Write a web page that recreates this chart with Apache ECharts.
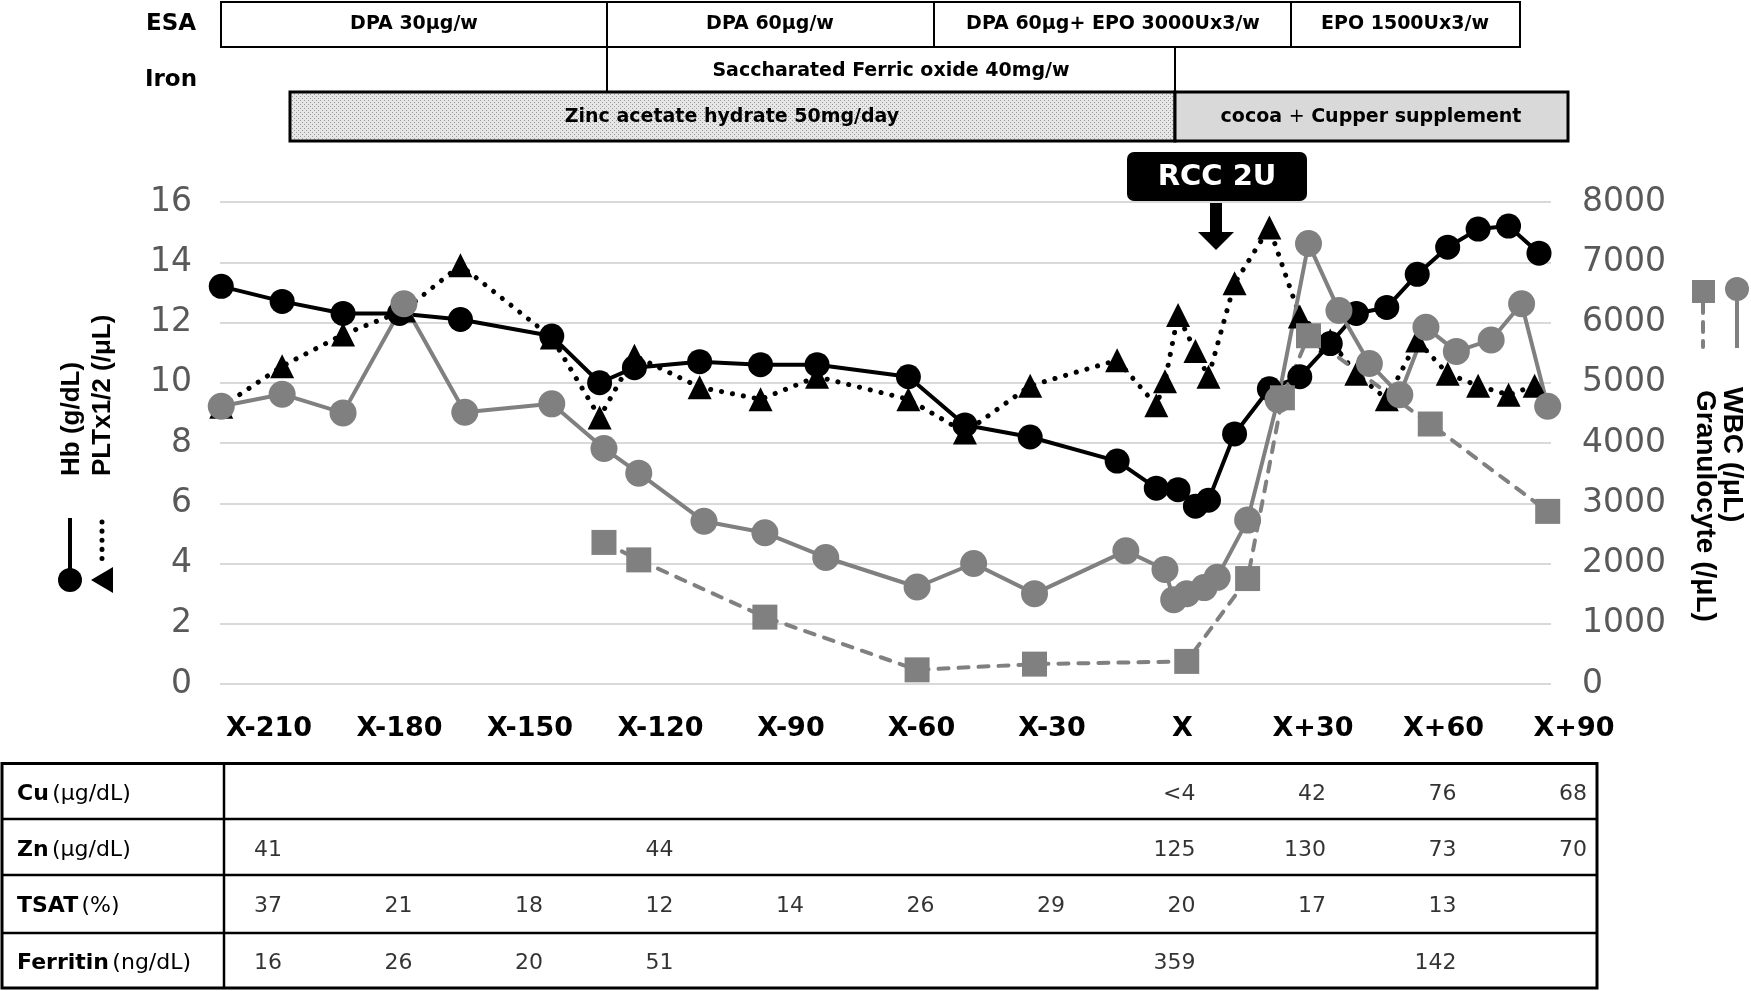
<!DOCTYPE html>
<html><head><meta charset="utf-8">
<script src="https://cdn.jsdelivr.net/npm/echarts@6/dist/echarts.min.js"></script>
<style>html,body{margin:0;padding:0;background:#fff}#c{width:1751px;height:991px}</style>
</head><body><div id="c"></div>
<script>
// ---- tick labels ----
const tickDays = [-210,-180,-150,-120,-90,-60,-30,0,30,60,90];
const xTickLabels = ['X-210','X-180','X-150','X-120','X-90','X-60','X-30','X','X+30','X+60','X+90'];

// ---- Hb (g/dL), left axis ----
const hbDays = [-221,-207,-193,-180,-166,-145,-134,-126,-111,-97,-84,-63,-50,-35,-15,-6,-1,3,6,12,20,27,34,40,47,54,61,68,75,82];
const hbValues = [13.2,12.7,12.3,12.3,12.1,11.55,10.0,10.5,10.7,10.6,10.6,10.2,8.6,8.2,7.4,6.5,6.45,5.9,6.1,8.3,9.8,10.2,11.3,12.3,12.5,13.6,14.5,15.1,15.2,14.3];

// ---- PLT x1/2, left axis ----
const pltDays = [-221,-207,-193,-179,-166,-145,-134,-126,-111,-97,-84,-63,-50,-35,-15,-6,-4,-1,3,6,12,20,27,34,40,47,54,61,68,75,81];
const pltValues = [9.2,10.55,11.6,12.4,13.9,11.5,8.85,10.9,9.85,9.45,10.2,9.45,8.35,9.9,10.75,9.25,10.05,12.25,11.05,10.2,13.3,15.15,12.2,11.4,10.3,9.45,11.4,10.3,9.9,9.6,9.9];

// ---- WBC (/uL), right axis ----
const wbcDays = [-221,-207,-193,-179,-165,-145,-133,-125,-110,-96,-82,-61,-48,-34,-13,-4,-2,1,5,8,15,22,29,36,43,50,56,63,71,78,84];
const wbcValues = [4610,4810,4500,6310,4510,4650,3910,3500,2700,2510,2100,1610,2000,1500,2210,1900,1400,1500,1600,1770,2720,4720,7310,6200,5320,4800,5920,5520,5710,6310,4610];

// ---- Granulocyte (/uL), right axis ----
const granDays = [-133,-125,-96,-61,-34,1,15,23,29,57,84];
const granValues = [2350,2060,1110,235,330,375,1750,4750,5780,4315,2865];

// ---- table ----
const tableRowNames = ['Cu','Zn','TSAT','Ferritin'];
const tableRowUnits = ['(μg/dL)','(μg/dL)','(%)','(ng/dL)'];
const cuRow = ['','','','','','','','<4','42','76','68'];
const znRow = ['41','','','44','','','','125','130','73','70'];
const tsatRow = ['37','21','18','12','14','26','29','20','17','13',''];
const ferritinRow = ['16','26','20','51','','','','359','','142',''];

const FONT = 'DejaVu Sans';
const GRAY = '#808080';

const pairs = (xs, ys) => xs.map((x, i) => [x, ys[i]]);
const tableData = [];
[cuRow, znRow, tsatRow, ferritinRow].forEach((row, r) => {
  row.forEach((t, c) => { if (t !== '') tableData.push([tickDays[c], r, t]); });
});

// stipple pattern for zinc box
const pc = document.createElement('canvas');
pc.width = 4; pc.height = 4;
const pctx = pc.getContext('2d');
pctx.fillStyle = '#e6e6e6'; pctx.fillRect(0,0,4,4);
pctx.fillStyle = '#9a9a9a'; pctx.fillRect(0,0,1,1); pctx.fillRect(2,2,1,1);
const zincFill = {image: pc, repeat: 'repeat'};

const hdrFont = 'bold 19px "DejaVu Sans"';
function hText(x, y, t, font) {
  return {type:'text', x, y, silent:true, style:{text:t, font: font || hdrFont, fill:'#000', align:'center', verticalAlign:'middle'}};
}
function line(x1,y1,x2,y2,w,color,dash) {
  return {type:'line', silent:true, shape:{x1,y1,x2,y2}, style:{stroke:color||'#000', lineWidth:w||2, lineDash:dash||null, lineCap: dash ? 'round' : 'butt'}};
}
const titleFont = 'bold 26px "Liberation Sans"';

const graphic = [
  // header labels
  hText(171, 24, 'ESA', 'bold 23px "DejaVu Sans"'),
  hText(171, 80, 'Iron', 'bold 23px "DejaVu Sans"'),
  // ESA row
  {type:'rect', silent:true, shape:{x:221, y:2, width:1299, height:45}, style:{fill:'#fff', stroke:'#000', lineWidth:2}},
  line(607,2,607,47), line(934,2,934,47), line(1291,2,1291,47),
  hText(414, 24, 'DPA 30μg/w'),
  hText(770, 24, 'DPA 60μg/w'),
  hText(1113, 24, 'DPA 60μg+ EPO 3000Ux3/w'),
  hText(1405, 24, 'EPO 1500Ux3/w'),
  // Iron row
  line(607,47,607,92), line(1175,47,1175,92),
  hText(891, 71, 'Saccharated Ferric oxide 40mg/w'),
  // Zinc / cocoa row
  {type:'rect', silent:true, shape:{x:290, y:92, width:885, height:49}, style:{fill:zincFill, stroke:'#000', lineWidth:3}},
  {type:'rect', silent:true, shape:{x:1175, y:92, width:393, height:49}, style:{fill:'#d9d9d9', stroke:'#000', lineWidth:3}},
  hText(732, 117, 'Zinc acetate hydrate 50mg/day'),
  {type:'text', x:1371, y:117, silent:true, style:{text:'{b|cocoa }{n|+}{b| Cupper supplement}', align:'center', verticalAlign:'middle',
    rich:{b:{font:hdrFont, fill:'#000'}, n:{font:'19px "DejaVu Sans"', fill:'#000'}}}},
  // RCC annotation
  {type:'rect', silent:true, shape:{x:1127, y:152, width:180, height:49, r:7}, style:{fill:'#000'}},
  {type:'text', x:1217, y:177, silent:true, style:{text:'RCC 2U', font:'bold 29px "DejaVu Sans"', fill:'#fff', align:'center', verticalAlign:'middle'}},
  {type:'polygon', silent:true, shape:{points:[[1210,200],[1222,200],[1222,232],[1234,232],[1216,250],[1198,232],[1210,232]]}, style:{fill:'#000'}},
  // left axis title + keys
  {type:'text', x:72, y:476, rotation:Math.PI/2, silent:true, style:{text:'Hb (g/dL)', font:titleFont, fill:'#000', align:'left', verticalAlign:'middle'}},
  {type:'text', x:103, y:476, rotation:Math.PI/2, silent:true, style:{text:'PLTx1/2 (/μL)', font:titleFont, fill:'#000', align:'left', verticalAlign:'middle'}},
  line(70,518,70,578,4,'#000'),
  {type:'circle', silent:true, shape:{cx:70, cy:580, r:12}, style:{fill:'#000'}},
  line(102,522,102,566,5,'#000',[0.1,9]),
  {type:'polygon', silent:true, shape:{points:[[91,580],[113,567],[113,593]]}, style:{fill:'#000'}},
  // right axis title + keys
  {type:'text', x:1732, y:387, rotation:-Math.PI/2, silent:true, style:{text:'WBC (/μL)', font:'bold 28px "Liberation Sans"', fill:'#000', align:'left', verticalAlign:'middle'}},
  {type:'text', x:1705, y:390, rotation:-Math.PI/2, silent:true, style:{text:'Granulocyte (/μL)', font:'bold 28px "Liberation Sans"', fill:'#000', align:'left', verticalAlign:'middle'}},
  line(1703,303,1703,347,4,GRAY,[10,9]),
  {type:'rect', silent:true, shape:{x:1692, y:280, width:23, height:23}, style:{fill:GRAY}},
  line(1737,298,1737,348,4,GRAY),
  {type:'circle', silent:true, shape:{cx:1737, cy:289, r:12}, style:{fill:GRAY}},
  // table borders
  {type:'rect', silent:true, shape:{x:2, y:763.5, width:1595, height:224.5}, style:{fill:null, stroke:'#000', lineWidth:3}},
  line(224,763,224,988,2.5), line(2,819,1597,819,2.5), line(2,875,1597,875,2.5), line(2,933,1597,933,2.5)
];

const axisLabelStyle = {fontFamily: FONT, fontSize: 33, color: '#595959', formatter: v => String(v)};

const option = {
  animation: false,
  backgroundColor: '#fff',
  grid: [
    {left:220, right:200, top:202, bottom:307},
    {left:269, right:177, top:202, bottom:307},
    {left:269, right:177, top:766, bottom:0}
  ],
  xAxis: [
    {gridIndex:0, type:'value', min:-221.29, max:84.76, show:false},
    {gridIndex:1, type:'value', min:-210, max:90, interval:30,
      axisLine:{show:false}, axisTick:{show:false}, splitLine:{show:false},
      axisLabel:{margin:31, fontFamily:FONT, fontWeight:'bold', fontSize:27, color:'#000',
        formatter: v => { const i = tickDays.indexOf(v); return i >= 0 ? xTickLabels[i] : ''; }}},
    {gridIndex:2, type:'value', min:-210, max:90, show:false}
  ],
  yAxis: [
    {gridIndex:0, type:'value', min:0, max:16, interval:2,
      axisLine:{show:false}, axisTick:{show:false},
      splitLine:{lineStyle:{color:'#d9d9d9', width:2}},
      axisLabel:Object.assign({margin:28}, axisLabelStyle)},
    {gridIndex:0, type:'value', position:'right', min:0, max:8000, interval:1000,
      axisLine:{show:false}, axisTick:{show:false}, splitLine:{show:false},
      axisLabel:Object.assign({margin:31}, axisLabelStyle)},
    {gridIndex:1, type:'value', min:0, max:1, show:false},
    {gridIndex:2, type:'category', inverse:true, data:tableRowNames,
      axisLine:{show:false}, axisTick:{show:false}, splitLine:{show:false},
      axisLabel:{align:'left', margin:252,
        formatter:(v, i) => '{b|' + tableRowNames[i] + '} {n|' + tableRowUnits[i] + '}',
        rich:{b:{fontFamily:FONT, fontWeight:'bold', fontSize:22, color:'#000'},
              n:{fontFamily:FONT, fontSize:22, color:'#000'}}}}
  ],
  series: [
    {name:'PLTx1/2', type:'line', xAxisIndex:0, yAxisIndex:0, data:pairs(pltDays, pltValues),
      symbol:'triangle', symbolSize:24, itemStyle:{color:'#000'},
      lineStyle:{color:'#000', width:5, type:[0.1, 11], cap:'round'}, silent:true},
    {name:'Hb', type:'line', xAxisIndex:0, yAxisIndex:0, data:pairs(hbDays, hbValues),
      symbol:'circle', symbolSize:25, itemStyle:{color:'#000'},
      lineStyle:{color:'#000', width:4}, silent:true},
    {name:'Granulocyte', type:'line', xAxisIndex:0, yAxisIndex:1, data:pairs(granDays, granValues),
      symbol:'rect', symbolSize:25, itemStyle:{color:GRAY},
      lineStyle:{color:GRAY, width:4, type:[10, 10], cap:'round'}, silent:true},
    {name:'WBC', type:'line', xAxisIndex:0, yAxisIndex:1, data:pairs(wbcDays, wbcValues),
      symbol:'circle', symbolSize:27, itemStyle:{color:GRAY},
      lineStyle:{color:GRAY, width:4}, silent:true},
    {name:'table', type:'scatter', xAxisIndex:2, yAxisIndex:3, data:tableData,
      symbolSize:0, silent:true,
      label:{show:true, position:[13, 0], align:'right', verticalAlign:'middle',
        fontFamily:FONT, fontSize:22, color:'#000', formatter: p => p.value[2]}}
  ],
  graphic: graphic
};

const chart = echarts.init(document.getElementById('c'), null, {renderer:'canvas'});
chart.setOption(option);
</script>
</body></html>
